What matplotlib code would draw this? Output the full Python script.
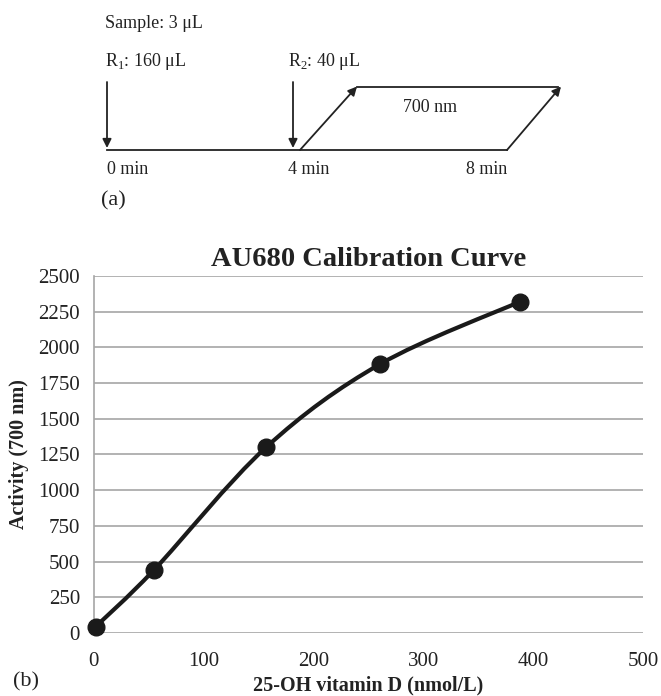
import matplotlib
matplotlib.use('Agg')
import matplotlib.pyplot as plt
from matplotlib.path import Path
from matplotlib.patches import PathPatch

plt.rcParams['font.family'] = ['Liberation Serif', 'DejaVu Serif']
plt.rcParams['mathtext.fontset'] = 'custom'
plt.rcParams['mathtext.rm'] = 'Liberation Serif'

# calibration data
conc = [2, 55, 157, 261, 388]           # 25-OH vitamin D, nmol/L
activity = [45, 441, 1300, 1884, 2320]  # activity at 700 nm
x_ticks = [0, 100, 200, 300, 400, 500]
y_ticks = [0, 250, 500, 750, 1000, 1250, 1500, 1750, 2000, 2250, 2500]

# timing diagram labels
time_labels = ['0 min', '4 min', '8 min']

W, H = 661, 696
fig = plt.figure(figsize=(W / 100, H / 100), dpi=100)

# overlay axes in pixel coords for panel (a)
ov = fig.add_axes([0, 0, 1, 1])
ov.set_xlim(0, W)
ov.set_ylim(H, 0)
ov.axis('off')

txt = dict(fontsize=13, color='#222222', va='center', ha='left')
ov.text(105, 23, 'Sample: 3 μL', **txt)
ov.text(105, 62, 'R$_\\mathrm{1}$: 160 μL', **txt)
ov.text(288, 62, 'R$_\\mathrm{2}$: 40 μL', **txt)
ov.text(430, 108, '700 nm', fontsize=13, color='#222222', va='center', ha='center')
for xx, lab in zip([107, 288, 466], time_labels):
    ov.text(xx, 170, lab, **txt)
ov.text(101, 201, '(a)', fontsize=16, color='#222222', va='center', ha='left')

arr = dict(arrowstyle='-|>', color='#222222', lw=1.3, mutation_scale=13, shrinkA=0, shrinkB=0)
ov.annotate('', xy=(107, 148), xytext=(107, 82), arrowprops=arr)
ov.annotate('', xy=(293, 148), xytext=(293, 82), arrowprops=arr)
ov.plot([107, 507], [150, 150], color='#222222', lw=1.3)
ov.annotate('', xy=(357, 86.5), xytext=(300, 150), arrowprops=arr)
ov.plot([357, 558], [86.5, 86.5], color='#222222', lw=1.3)
ov.annotate('', xy=(561, 86.5), xytext=(507, 150), arrowprops=arr)

# panel (b)
x0, x1, y0, y1 = 93.5, 643, 276, 633
ax = fig.add_axes([x0 / W, (H - y1) / H, (x1 - x0) / W, (y1 - y0) / H])
ax.set_xlim(0, 500)
ax.set_ylim(0, 2500)
ax.set_xticks(x_ticks)
ax.set_yticks(y_ticks)
ax.grid(axis='y', color='#a6a6a6', lw=1.2)
ax.set_axisbelow(True)
for s in ['top', 'right', 'bottom']:
    ax.spines[s].set_visible(False)
ax.spines['left'].set_color('#a6a6a6')
ax.spines['left'].set_linewidth(1.2)
ax.tick_params(length=0, labelsize=15, colors='#222222')
ax.tick_params(axis='y', pad=9.7)
ax.tick_params(axis='x', pad=13.5)

# smoothed line like a spreadsheet chart (catmull-rom bezier)
pts = list(zip(conc, activity))
verts = [pts[0]]
codes = [Path.MOVETO]
for i in range(len(pts) - 1):
    p0 = pts[i - 1] if i > 0 else pts[i]
    p1 = pts[i]
    p2 = pts[i + 1]
    p3 = pts[i + 2] if i + 2 < len(pts) else pts[i + 1]
    c1 = (p1[0] + (p2[0] - p0[0]) / 6, p1[1] + (p2[1] - p0[1]) / 6)
    c2 = (p2[0] - (p3[0] - p1[0]) / 6, p2[1] - (p3[1] - p1[1]) / 6)
    verts += [c1, c2, p2]
    codes += [Path.CURVE4] * 3
ax.add_patch(PathPatch(Path(verts, codes), fill=False, ec='#1a1a1a', lw=3, capstyle='round', zorder=3))
ax.plot(conc, activity, 'o', color='#1a1a1a', ms=12, zorder=4, clip_on=False)

ax.text(0.5, 1.046, 'AU680 Calibration Curve', transform=ax.transAxes, ha='center', va='center',
        fontsize=20.5, fontweight='bold', color='#222222')
ax.set_xlabel('25-OH vitamin D (nmol/L)', fontsize=14.5, fontweight='bold', color='#222222')
ax.set_ylabel('Activity (700 nm)', fontsize=14.5, fontweight='bold', color='#222222')
ax.xaxis.set_label_coords(0.5, (y1 - 685) / (y1 - y0))
ax.yaxis.set_label_coords((19.5 - x0) / (x1 - x0), 0.5)
ax.xaxis.label.set_va('center')
ax.yaxis.label.set_va('center')

fig.text(13 / W, 1 - 682 / H, '(b)', fontsize=16, color='#222222', va='center', ha='left')

fig.savefig('out.png', dpi=100)
